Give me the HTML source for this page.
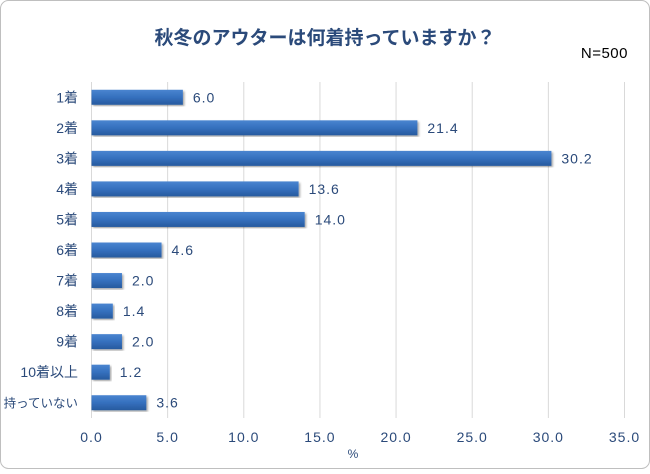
<!DOCTYPE html>
<html><head><meta charset="utf-8"><style>
body{margin:0;background:#fff;}
svg text{font-family:"Liberation Sans","Noto Sans CJK JP",sans-serif;fill:#2B4A7A;}
</style></head><body>
<svg width="650" height="469">
<defs>
<linearGradient id="g" x1="0" y1="0" x2="0" y2="1">
<stop offset="0" stop-color="#4A85D0"/><stop offset="0.5" stop-color="#3570BE"/><stop offset="1" stop-color="#275A9E"/>
</linearGradient>
<filter id="sh"><feDropShadow dx="1.5" dy="1.5" stdDeviation="1" flood-color="#000" flood-opacity="0.35"/></filter>
</defs>
<rect x="0.5" y="0.5" width="649" height="468" rx="8" fill="#fff" stroke="#BFBFBF"/>
<text x="325" y="44" text-anchor="middle" font-size="19" font-weight="bold" fill="#1F3B6B">秋冬のアウターは何着持っていますか？</text>
<text x="628" y="58" text-anchor="end" font-size="15" letter-spacing="0.5" style="fill:#000">N=500</text>
<g id="grid"></g><g id="bars"></g><g id="labels"></g>
<text x="353" y="458" text-anchor="middle" font-size="12">%</text>
</svg>
<script>
const categories=["1着","2着","3着","4着","5着","6着","7着","8着","9着","10着以上","持っていない"];
const values=[6.0,21.4,30.2,13.6,14.0,4.6,2.0,1.4,2.0,1.2,3.6];
const ticks=[0,5,10,15,20,25,30,35];
const NS="http://www.w3.org/2000/svg";
const x0=91.5,x1=624.5,xmax=35,yTop=82,yBot=418;
const xs=v=>x0+(v/xmax)*(x1-x0);
const step=(yBot-yTop)/categories.length;
const yc=i=>yTop+step*(i+0.5);
function mk(t,a,p){const e=document.createElementNS(NS,t);for(const k in a)e.setAttribute(k,a[k]);p.appendChild(e);return e;}
const grid=document.getElementById('grid'),bars=document.getElementById('bars'),labels=document.getElementById('labels');
ticks.forEach(t=>{
 const l=mk('line',{x1:xs(t),x2:xs(t),y1:yTop,y2:yBot,stroke:'#D9D9D9','stroke-width':1},grid);
 
 
 const tx=mk('text',{x:xs(t),y:442,'text-anchor':'middle','font-size':14,'letter-spacing':1},labels);
 tx.textContent=t.toFixed(1);
 
 
});
categories.forEach((c,i)=>{
 const y=yc(i);
 const r=mk('rect',{x:x0,y:y-7.5,width:xs(values[i])-x0,height:15,fill:'url(#g)',filter:'url(#sh)'},bars);
 
 
 const v=mk('text',{x:xs(values[i])+10,y:y+5,'font-size':14,'letter-spacing':1},labels);
 v.textContent=values[i].toFixed(1);
 
 
 const cl=mk('text',{x:78,y:y+5,'text-anchor':'end','font-size':c.length>5?12.5:14},labels);
 cl.textContent=c;
 
 
});
</script>
</body></html>
